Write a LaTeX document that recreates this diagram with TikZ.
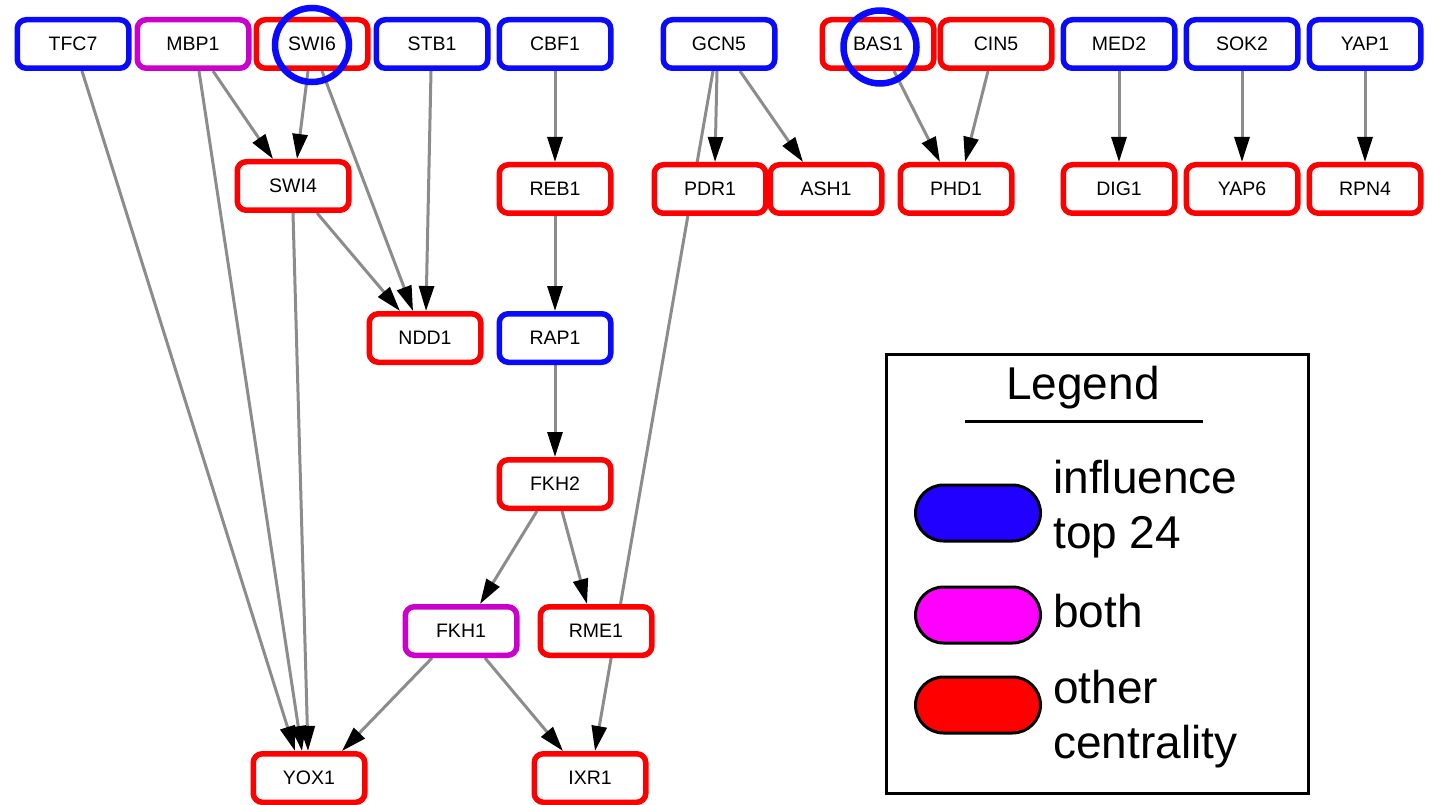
\documentclass[tikz,border=0pt]{standalone}
\usepackage{fontspec}
\setmainfont{Liberation Sans}
\usetikzlibrary{arrows.meta}
\pgfdeclarelayer{background}
\pgfsetlayers{background,main}
\definecolor{nblue}{HTML}{0A0AFF}
\definecolor{nred}{HTML}{FF0000}
\definecolor{nmag}{HTML}{CC00CC}
\definecolor{egray}{HTML}{8C8C8C}
\definecolor{lblue}{HTML}{2200FF}
\definecolor{lmag}{HTML}{FF00FF}
\tikzset{
 gene/.style={draw, line width=5.5pt, rounded corners=9pt, fill=white, minimum width=111.5pt, minimum height=48.5pt, inner sep=0pt, font=\fontsize{19.5}{22}\selectfont},
 inf/.style={gene, draw=nblue},
 oth/.style={gene, draw=nred},
 bth/.style={gene, draw=nmag},
 conn/.style={draw=egray, line width=3pt, -{Triangle[length=25pt,width=15pt,color=black]}},
 hl/.style={draw=nblue, line width=6.5pt},
 pill/.style={draw=black, line width=3pt, rounded corners=28pt, minimum width=125pt, minimum height=56pt, inner sep=0pt},
 legtext/.style={font=\fontsize{46}{54}\selectfont, anchor=base west, inner sep=0pt}
}
\begin{document}
\begin{tikzpicture}[x=1pt,y=-1pt]
\useasboundingbox (0,0) rectangle (1432,805);
% top row
\node[inf] (TFC7) at (73,44) {TFC7};
\node[bth] (MBP1) at (193,44) {MBP1};
\node[oth] (SWI6) at (312,44) {SWI6};
\node[inf] (STB1) at (432,44) {STB1};
\node[inf] (CBF1) at (555,44) {CBF1};
\node[inf] (GCN5) at (719,44) {GCN5};
\node[oth] (BAS1) at (878,44) {BAS1};
\node[oth] (CIN5) at (996,44) {CIN5};
\node[inf] (MED2) at (1119,44) {MED2};
\node[inf] (SOK2) at (1242,44) {SOK2};
\node[inf] (YAP1) at (1365,44) {YAP1};
% second row
\node[oth] (SWI4) at (293,186) {SWI4};
\node[oth] (REB1) at (555,189) {REB1};
\node[oth] (PDR1) at (710,189) {PDR1};
\node[oth] (ASH1) at (826,189) {ASH1};
\node[oth] (PHD1) at (956,189) {PHD1};
\node[oth] (DIG1) at (1119,189) {DIG1};
\node[oth] (YAP6) at (1242,189) {YAP6};
\node[oth] (RPN4) at (1365,189) {RPN4};
% lower rows
\node[oth] (NDD1) at (425,338) {NDD1};
\node[inf] (RAP1) at (555,338) {RAP1};
\node[oth] (FKH2) at (555,484) {FKH2};
\node[bth] (FKH1) at (461,631) {FKH1};
\node[oth] (RME1) at (596,631) {RME1};
\node[oth] (YOX1) at (309,778) {YOX1};
\node[oth] (IXR1) at (590,778) {IXR1};
% highlight circles
\draw[hl] (312,45) circle (37);
\draw[hl] (880,47) circle (36.5);
% edges
\begin{pgfonlayer}{background}
\draw[conn] ([xshift=9pt]TFC7.south) -- ([xshift=-14pt]YOX1.north);
\draw[conn] ([xshift=6pt]MBP1.south) -- ([xshift=-7pt]YOX1.north);
\draw[conn] ([xshift=20pt]MBP1.south) -- ([xshift=-20pt]SWI4.north);
\draw[conn] ([xshift=-4pt]SWI6.south) -- ([xshift=4pt]SWI4.north);
\draw[conn] ([xshift=10pt]SWI6.south) -- ([xshift=-12pt]NDD1.north);
\draw[conn] ([xshift=24pt]SWI4.south) -- ([xshift=-25pt]NDD1.north);
\draw[conn] ([xshift=0pt]SWI4.south) -- ([xshift=-1pt]YOX1.north);
\draw[conn] ([xshift=-1pt]STB1.south) -- ([xshift=1pt]NDD1.north);
\draw[conn] (CBF1.south) -- (REB1.north);
\draw[conn] (REB1.south) -- (RAP1.north);
\draw[conn] (RAP1.south) -- (FKH2.north);
\draw[conn] ([xshift=-18pt]FKH2.south) -- ([xshift=19pt]FKH1.north);
\draw[conn] ([xshift=7pt]FKH2.south) -- ([xshift=-9pt]RME1.north);
\draw[conn] ([xshift=-29pt]FKH1.south) -- ([xshift=33pt]YOX1.north);
\draw[conn] ([xshift=24pt]FKH1.south) -- ([xshift=-27pt]IXR1.north);
\draw[conn] ([xshift=-6pt]GCN5.south) -- ([xshift=5pt]IXR1.north);
\draw[conn] ([xshift=-2pt]GCN5.south) -- ([xshift=5pt]PDR1.north);
\draw[conn] ([xshift=21pt]GCN5.south) -- ([xshift=-23pt]ASH1.north);
\draw[conn] ([xshift=16pt]BAS1.south) -- ([xshift=-16pt]PHD1.north);
\draw[conn] ([xshift=-8pt]CIN5.south) -- ([xshift=9pt]PHD1.north);
\draw[conn] (MED2.south) -- (DIG1.north);
\draw[conn] (SOK2.south) -- (YAP6.north);
\draw[conn] (YAP1.south) -- (RPN4.north);
\end{pgfonlayer}
% legend
\draw[line width=3pt] (886.5,354.5) rectangle (1308.5,793.5);
\node[legtext, anchor=base] (legtitle) at (1083,399) {Legend};
\draw[line width=3pt] (965,421) -- (1203,421);
\node[pill, fill=lblue] (pblue) at (978,513) {};
\node[pill, fill=lmag] (pmag) at (978,615) {};
\node[pill, fill=nred] (pred) at (978,705) {};
\node[legtext] (t1) at (1053,493) {influence};
\node[legtext] (t2) at (1053,548) {top 24};
\node[legtext] (t3) at (1053,627) {both};
\node[legtext] (t4) at (1053,703) {other};
\node[legtext] (t5) at (1053,758) {centrality};
\end{tikzpicture}
\end{document}
